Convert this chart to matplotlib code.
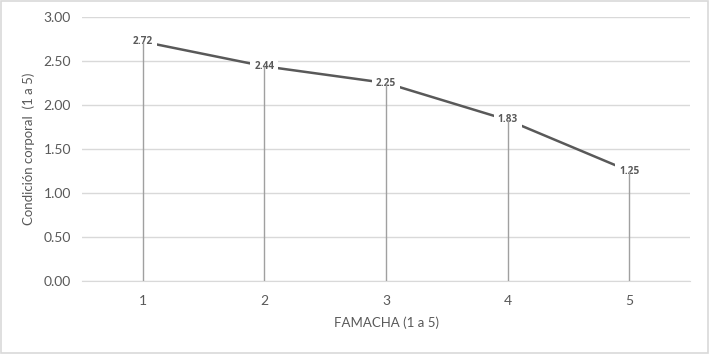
import matplotlib.pyplot as plt
from matplotlib.patches import Rectangle

# Datos
famacha = [1, 2, 3, 4, 5]
condicion = [2.72, 2.44, 2.25, 1.83, 1.25]
yticks = [0.0, 0.5, 1.0, 1.5, 2.0, 2.5, 3.0]

plt.rcParams['font.family'] = ['Lato', 'DejaVu Sans']

fig = plt.figure(figsize=(7.09, 3.54), dpi=100)
ax = fig.add_axes([82 / 709, 1 - 281 / 354, 608 / 709, 264 / 354])

# Borde exterior tipo Excel
fig.patches.append(Rectangle((0.0015, 0.003), 0.997, 0.994, transform=fig.transFigure,
                             fill=False, edgecolor='#d9d9d9', linewidth=1.2))

ax.set_xlim(0.5, 5.5)
ax.set_ylim(0, 3)
ax.set_yticks(yticks)
ax.set_yticklabels([f"{v:.2f}" for v in yticks])
ax.set_xticks(famacha)
ax.grid(axis='y', color='#d9d9d9', linewidth=1)
ax.set_axisbelow(True)
for s in ['top', 'right', 'left']:
    ax.spines[s].set_visible(False)
ax.spines['bottom'].set_color('#d9d9d9')
ax.tick_params(length=0, colors='#595959', labelsize=10, pad=8)
ax.tick_params(axis='x', pad=10)

# Línea de la serie
ax.plot(famacha, condicion, color='#595959', linewidth=1.8, zorder=3)

# Líneas de proyección
ax.vlines(famacha, 0, condicion, color='#a0a0a0', linewidth=1, zorder=5)

# Etiquetas de datos
for x, y in zip(famacha, condicion):
    ax.text(x, y, f"{y:.2f}", ha='center', va='center', fontsize=7.2, fontweight='bold',
            family=['Open Sans', 'DejaVu Sans'], color='#595959', zorder=4,
            bbox=dict(boxstyle='square,pad=0.4', facecolor='white', edgecolor='none'))

ax.set_xlabel('FAMACHA (1 a 5)', color='#595959', fontsize=9.5, labelpad=7)
ax.set_ylabel('Condición corporal  (1 a 5)', color='#595959', fontsize=9.5, labelpad=6)

fig.savefig('out.png', dpi=100)
